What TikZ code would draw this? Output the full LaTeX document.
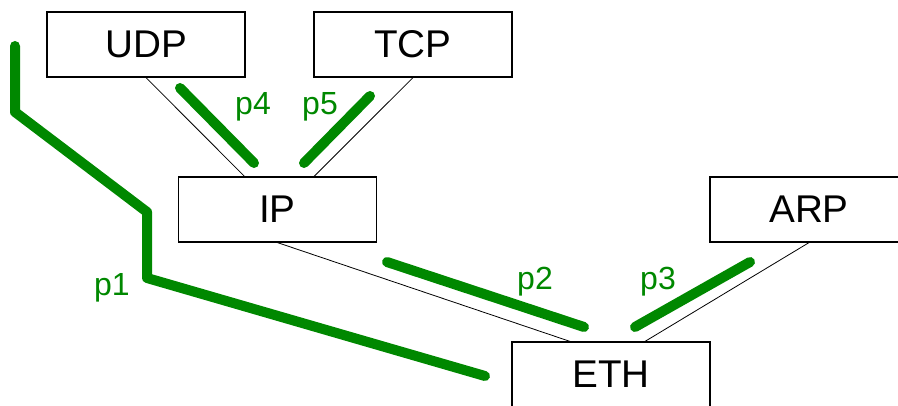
\documentclass[tikz,border=0pt]{standalone}
\usepackage{fontspec}
\setmainfont{Liberation Sans}
\definecolor{pathgreen}{RGB}{0,136,0}
\tikzset{
  layer/.style={draw,line width=0.9pt,minimum width=148.5pt,minimum height=48.75pt,
    inner sep=0pt,font=\fontsize{29}{34}\selectfont},
  link/.style={line width=0.6pt},
  route/.style={pathgreen,line width=7.5pt,line cap=round,line join=round},
  routelabel/.style={text=pathgreen,font=\fontsize{24}{28}\selectfont}
}
\begin{document}
\begin{tikzpicture}[x=0.75pt,y=-0.75pt]
\useasboundingbox (0,0) rectangle (898,406);
% protocol boxes
\node[layer] (udp) at (146,44.5) {UDP};
\node[layer] (tcp) at (413,44.5) {TCP};
\node[layer] (ip) at (277.5,209.5) {IP};
\node[layer] (arp) at (809,209.5) {ARP};
\node[layer] (eth) at (611,374.5) {ETH};
% links between layers
\draw[link] (udp.south) -- ([xshift=-24.75pt]ip.north);
\draw[link] (tcp.south) -- ([xshift=27.4pt]ip.north);
\draw[link] (ip.south) -- ([xshift=-30.75pt]eth.north);
\draw[link] (arp.south) -- ([xshift=25.5pt]eth.north);
% paths
\draw[route] (15,46) -- (15,112) -- (147,212) -- (147,278) -- (485,376);
\draw[route] (387,262) -- (584,327);
\draw[route] (750,262) -- (635,327);
\draw[route] (180,88) -- (254,163);
\draw[route] (370,96) -- (304,163);
\node[routelabel] (p1) at (112,288) {p1};
\node[routelabel] (p2) at (535,282) {p2};
\node[routelabel] (p3) at (658,282) {p3};
\node[routelabel] (p4) at (253,107) {p4};
\node[routelabel] (p5) at (320,107) {p5};
\end{tikzpicture}
\end{document}
